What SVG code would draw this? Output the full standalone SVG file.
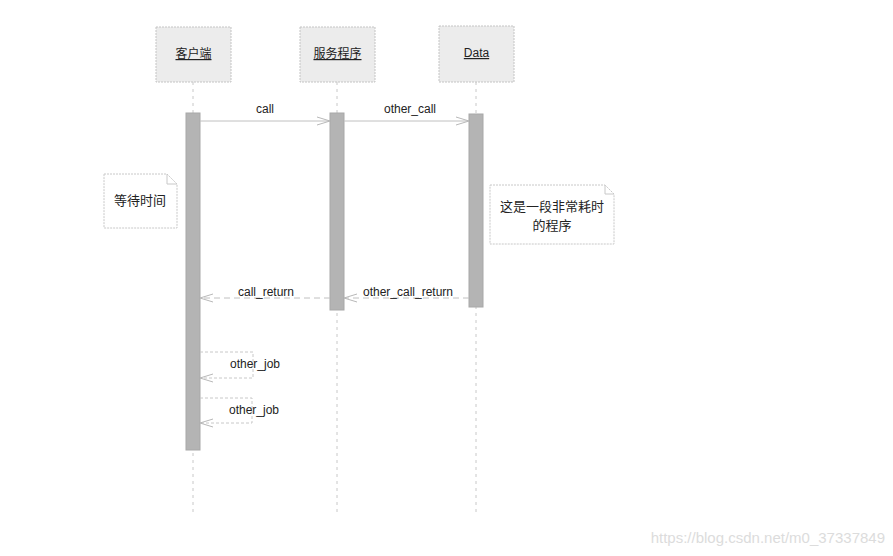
<svg xmlns="http://www.w3.org/2000/svg" width="893" height="556" viewBox="0 0 893 556">
<defs>
<style>
.head{fill:#ececec;stroke:#c4c4c4;stroke-width:1;stroke-dasharray:2 1}
.htxt{font-family:"Liberation Sans","Noto Sans CJK SC",sans-serif;font-size:12px;fill:#222;text-anchor:middle;text-decoration:underline}
.life{stroke:#c8c8c8;stroke-width:1;stroke-dasharray:3 4;fill:none}
.act{fill:#b4b4b4;stroke:#a8a8a8;stroke-width:1}
.msg{stroke:#c0c0c0;stroke-width:1;fill:none}
.ret{stroke:#c0c0c0;stroke-width:1;fill:none;stroke-dasharray:6 4}
.self{stroke:#c8c8c8;stroke-width:1;fill:none;stroke-dasharray:3 2}
.lbl{font-family:"Liberation Sans",sans-serif;font-size:12px;fill:#222;text-anchor:middle}
.note{fill:#ffffff;stroke:#c8c8c8;stroke-width:1;stroke-dasharray:2 1}
.ntxt{font-family:"Noto Sans CJK SC","Liberation Sans",sans-serif;font-size:13px;fill:#222;text-anchor:middle}
</style>
<marker id="open" markerWidth="14" markerHeight="10" refX="13" refY="5" orient="auto" markerUnits="userSpaceOnUse">
<path d="M0,1 L13,5 L0,9" fill="none" stroke="#b8b8b8" stroke-width="1"/>
</marker>
</defs>
<rect width="893" height="556" fill="#ffffff"/>
<g id="lifelines">
<line class="life" x1="193" y1="82" x2="193" y2="512"/>
<line class="life" x1="337" y1="82" x2="337" y2="512"/>
<line class="life" x1="476" y1="82" x2="476" y2="512"/>
</g>
<g id="client">
<rect class="head" x="156" y="27" width="75" height="55"/>
<text class="htxt" x="193.5" y="58">客户端</text>
</g>
<g id="server">
<rect class="head" x="300" y="27" width="75" height="55"/>
<text class="htxt" x="337.5" y="58">服务程序</text>
</g>
<g id="data">
<rect class="head" x="439" y="26" width="75" height="56"/>
<text class="htxt" x="476.5" y="57">Data</text>
</g>
<g id="activations">
<rect class="act" x="186" y="113" width="14" height="337"/>
<rect class="act" x="330" y="113" width="14" height="197"/>
<rect class="act" x="469" y="114" width="14" height="193"/>
</g>
<g id="connectors">
<line class="msg" x1="200" y1="121" x2="330" y2="121" marker-end="url(#open)"/>
<line class="msg" x1="344" y1="121" x2="469" y2="121" marker-end="url(#open)"/>
<line class="ret" x1="330" y1="298" x2="200" y2="298" marker-end="url(#open)"/>
<line class="ret" x1="469" y1="298" x2="344" y2="298" marker-end="url(#open)"/>
<path class="self" d="M200,352 H253 V378 H200" marker-end="url(#open)"/>
<path class="self" d="M200,398 H252 V423 H200" marker-end="url(#open)"/>
</g>
<g id="labels">
<text class="lbl" x="265" y="113">call</text>
<text class="lbl" x="410" y="113">other_call</text>
<text class="lbl" x="266" y="296">call_return</text>
<text class="lbl" x="408" y="296">other_call_return</text>
<text class="lbl" x="255" y="368">other_job</text>
<text class="lbl" x="254" y="414">other_job</text>
</g>
<g id="note-wait">
<path class="note" d="M104,174 H167 L177,184 V228 H104 Z"/>
<path d="M167,174 V184 H177" fill="none" stroke="#c8c8c8" stroke-width="1"/>
<text class="ntxt" x="140" y="205">等待时间</text>
</g>
<g id="note-slow">
<path class="note" d="M490,185 H605 L614,194 V244 H490 Z"/>
<path d="M605,185 V194 H614" fill="none" stroke="#c8c8c8" stroke-width="1"/>
<text class="ntxt" x="552" y="211">这是一段非常耗时</text>
<text class="ntxt" x="552" y="230">的程序</text>
</g>
<text x="885" y="543" font-family="Liberation Sans,sans-serif" font-size="15" fill="#dcdcdc" text-anchor="end">https://blog.csdn.net/m0_37337849</text>
</svg>
